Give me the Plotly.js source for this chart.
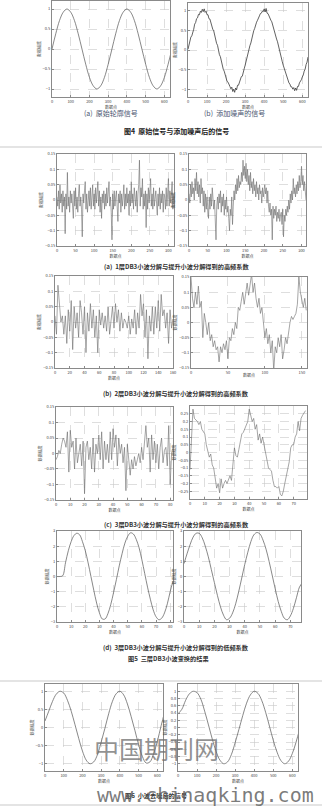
<!DOCTYPE html>
<html><head><meta charset="utf-8">
<script src="https://cdn.plot.ly/plotly-3.0.1.min.js"></script>
<style>html,body{margin:0;padding:0;background:#fff}#c{width:322px;height:806px}</style>
</head><body><div id="c"></div>
<script>
// ---------- DATA ----------
const sigOrig = [0,0.38,0.71,0.92,1.0,0.92,0.71,0.38,0,-0.38,-0.71,-0.92,-1.0,-0.92,-0.71,-0.38,0,0.38,0.71,0.92,1.0,0.92,0.71,0.38,0,-0.38,-0.71,-0.92,-1.0,-0.92,-0.71,-0.38,0];
const sigNoisy = [0.02,0.13,0.17,0.33,0.36,0.50,0.53,0.66,0.70,0.80,0.82,0.91,0.90,0.99,0.96,1.04,0.98,
1.05,0.96,0.99,0.90,0.90,0.80,0.79,0.69,0.65,0.53,0.49,0.36,0.31,0.17,0.12,-0.02,
-0.12,-0.17,-0.31,-0.36,-0.49,-0.54,-0.65,-0.69,-0.80,-0.82,-0.90,-0.93,-0.99,-0.95,-1.06,-1.00,
-1.08,-0.97,-1.02,-0.90,-0.90,-0.81,-0.79,-0.68,-0.67,-0.54,-0.48,-0.39,-0.27,-0.21,-0.08,0.01,
0.11,0.18,0.31,0.37,0.49,0.55,0.65,0.71,0.76,0.84,0.87,0.93,0.94,0.99,0.98,1.05,
0.97,1.06,0.94,0.93,0.86,0.84,0.76,0.72,0.62,0.57,0.46,0.39,0.28,0.21,0.09,0.01,
-0.11,-0.18,-0.30,-0.39,-0.46,-0.57,-0.62,-0.72,-0.76,-0.84,-0.87,-0.94,-0.94,-1.00,-0.96,-1.04,
-0.97,-1.03,-0.93,-0.93,-0.84,-0.81,-0.76,-0.69,-0.64,-0.54,-0.49,-0.37,-0.31,-0.18];
const d1Db3 = [0.01,-0.02,0.03,-0.03,0.05,-0.01,0.02,-0.04,0.03,-0.02,
0.01,-0.11,0.02,-0.03,0.09,-0.02,0.01,-0.04,0.03,-0.01,
0.02,-0.03,-0.06,0.03,-0.02,0.04,-0.03,0.01,-0.04,0.02,
0.05,-0.02,0.01,-0.03,-0.12,0.02,-0.01,0.03,0.06,-0.03,
0.02,-0.04,0.01,0.03,-0.02,0.04,-0.03,0.01,0.05,-0.02,
0.02,-0.03,0.04,-0.01,0.02,0.06,-0.02,0.03,-0.04,0.01,
-0.06,0.02,-0.01,0.03,-0.03,0.02,-0.02,0.04,-0.01,0.02,
0.06,-0.02,0.01,-0.04,-0.13,0.02,-0.03,0.03,-0.02,0.01,
0.03,-0.02,-0.07,0.02,-0.01,0.03,-0.04,0.02,-0.02,0.01,
0.05,-0.03,0.02,-0.02,0.04,-0.01,0.02,-0.05,0.03,-0.02,
0.06,-0.01,0.02,-0.03,0.04,0.01,-0.02,0.03,-0.04,0.02,
0.05,0.13,-0.02,0.04,0.01,0.07,-0.03,0.02,-0.02,0.03,
-0.09,0.02,-0.03,0.04,-0.01,0.03,0.07,-0.02,0.02,-0.03,
0.04,-0.02,0.01,0.03,-0.01,-0.05,0.02,-0.02,0.04,-0.03,
0.02,-0.01,0.03,-0.04,0.02,0.01,-0.03,0.04,-0.02,0.03,
0.07,-0.02,0.03,-0.01,0.02,0.06,-0.03,0.02];
const d1Lift = [0.02,-0.01,0.05,0.01,0.06,0.02,0.04,0.00,0.07,0.03,
0.09,0.02,0.06,0.01,0.05,-0.01,0.07,0.02,0.04,-0.02,
0.03,-0.04,0.02,-0.03,0.01,-0.02,-0.06,0.01,-0.03,0.02,
-0.02,0.04,-0.01,-0.03,0.00,-0.05,-0.13,-0.02,0.01,-0.03,
0.02,-0.01,0.03,-0.04,0.01,-0.02,0.02,-0.05,0.00,-0.03,
0.01,-0.04,-0.02,-0.06,-0.10,-0.03,-0.05,0.01,-0.08,-0.02,
0.03,0.00,0.05,0.02,0.07,0.03,0.08,0.04,0.06,0.05,
0.09,0.06,0.13,0.08,0.11,0.07,0.12,0.06,0.10,0.05,
0.08,0.03,0.09,0.04,0.06,0.02,0.07,0.03,0.05,0.01,
0.06,0.02,0.04,0.00,0.05,0.02,0.03,-0.01,0.04,0.01,
0.03,0.05,0.02,0.04,-0.01,0.03,-0.02,-0.04,-0.01,-0.05,
-0.03,-0.13,-0.02,-0.06,-0.03,-0.05,-0.02,-0.07,-0.04,-0.06,
-0.03,-0.07,-0.05,-0.04,-0.08,-0.03,-0.12,-0.05,-0.07,-0.03,
-0.05,-0.02,-0.04,0.00,-0.03,0.02,-0.01,0.03,0.00,0.07,
0.02,0.04,0.01,0.05,0.02,0.06,0.03,0.08,0.04,0.06,
0.11,0.05,0.08,0.03,0.06,0.01,0.00];
const d2Db3 = [0.02,-0.04,0.12,0.05,0.00,0.02,-0.04,0.02,-0.07,0.04,
-0.03,0.07,-0.09,0.05,-0.02,0.03,-0.05,0.07,0.03,-0.04,
0.05,-0.10,0.03,-0.03,0.06,-0.02,0.04,-0.05,0.02,-0.10,
0.04,-0.01,0.03,-0.02,0.02,-0.03,0.05,-0.04,0.02,0.05,
-0.02,0.06,0.00,0.04,-0.03,0.03,-0.02,0.01,0.00,-0.02,
0.02,-0.04,0.01,-0.02,0.04,-0.04,0.03,-0.02,0.09,0.02,
0.06,-0.05,0.04,-0.12,0.02,-0.03,0.05,-0.04,0.05,-0.02,
0.07,-0.03,0.09,0.02,0.04,-0.02,0.03,-0.07,0.04,-0.02,0.01];
const d2Lift = [0.15,0.08,0.05,0.10,0.06,0.12,0.05,0.07,-0.05,0.03,
0.00,-0.04,0.00,-0.06,-0.04,-0.08,-0.06,-0.09,-0.08,-0.13,
-0.08,-0.10,-0.07,-0.09,-0.06,-0.12,-0.05,-0.06,-0.02,-0.04,
0.00,-0.02,0.05,0.04,0.07,0.10,0.06,0.10,0.13,0.09,
0.12,0.16,0.10,0.13,0.08,0.05,0.08,0.03,0.05,-0.01,
-0.05,-0.02,-0.07,-0.04,-0.10,-0.06,-0.16,-0.08,-0.10,-0.05,
-0.08,-0.04,-0.12,-0.09,-0.05,-0.07,-0.03,0.00,0.02,0.01,
0.02,0.03,0.06,0.15,0.10,0.07,0.05,0.08,0.04];
const d3Db3 = [-0.02,-0.01,0.01,0.00,0.03,0.05,0.04,0.02,0.07,-0.06,
0.075,0.02,0.04,-0.05,0.05,-0.03,0.00,0.03,-0.04,0.04,
-0.13,0.02,0.04,-0.02,0.02,-0.05,0.05,-0.06,0.03,0.00,
0.06,-0.02,0.07,-0.05,0.04,-0.02,0.03,-0.03,0.07,-0.02,
0.08,0.02,0.06,-0.04,0.05,0.00,0.03,-0.03,0.02,-0.12,
0.03,-0.02,-0.07,-0.02,-0.05,-0.01,-0.04,-0.02,0.00,-0.03,
0.02,-0.02,0.04,0.09,0.02,0.05,-0.06,0.06,-0.02,0.04,
-0.03,0.03,-0.05,0.02,0.05,-0.03,0.01,0.02,-0.04,0.09,
-0.10,0.00,0.02];
const d3Lift = [-0.11,0.10,0.28,0.22,0.21,0.20,0.18,0.20,0.15,0.13,
0.12,0.05,0.00,-0.03,-0.01,-0.08,-0.10,-0.18,-0.23,-0.20,
-0.26,-0.17,-0.23,-0.20,-0.18,-0.20,-0.17,-0.15,-0.18,-0.08,
0.03,-0.02,-0.03,0.02,0.08,0.12,0.13,0.15,0.18,0.20,
0.28,0.24,0.20,0.22,0.15,0.18,0.08,0.12,0.06,0.10,
0.05,0.00,-0.05,-0.10,-0.11,-0.12,-0.18,-0.22,-0.22,-0.23,
-0.22,-0.27,-0.28,-0.25,-0.20,-0.15,-0.12,-0.06,0.03,0.05,
0.05,0.10,0.12,0.20,0.14,0.22,0.24,0.26,0.27];
const a3Db3 = [0,0,0.05,0.9,1.7,2.3,2.7,2.85,2.75,2.3,1.7,0.9,0.0,-0.9,-1.75,-2.4,-2.8,-2.8,-2.45,-1.85,-1.05,-0.2,0.7,1.5,2.2,2.65,2.88,2.8,2.45,1.9,1.1,0.2,-0.7,-1.5,-2.2,-2.65,-2.85,-2.75,-2.4,-1.8,-1.0,-0.3];
const a3Lift = [0.85,1.5,2.1,2.6,2.85,2.85,2.55,2.0,1.3,0.45,-0.4,-1.25,-2.0,-2.55,-2.85,-2.75,-2.4,-1.8,-1.0,-0.1,0.8,1.6,2.3,2.75,2.9,2.8,2.4,1.8,1.0,0.1,-0.8,-1.65,-2.3,-2.75,-2.85,-2.6,-2.1,-1.4,-0.7,-0.4];
const denDb3 = [0.18,0.45,0.72,0.92,1.0,0.95,0.75,0.45,0.08,-0.30,-0.65,-0.90,-1.0,-0.95,-0.75,-0.40,-0.02,0.38,0.72,0.93,1.0,0.90,0.65,0.30,-0.08,-0.48,-0.80,-0.98,-0.95,-0.72,-0.38,0.05,0.45];
const denLift = [0.38,0.5,0.75,0.93,1.0,0.96,0.78,0.45,0.07,-0.32,-0.66,-0.90,-1.0,-0.95,-0.75,-0.42,-0.05,0.33,0.67,0.90,1.0,0.94,0.74,0.42,0.04,-0.35,-0.68,-0.91,-1.0,-0.93,-0.72,-0.40,-0.02];

// tick values
const xt600 = [0,100,200,300,400,500,600];
const xt300 = [0,50,100,150,200,250,300];
const xt160 = [0,20,40,60,80,100,120,140,160];
const xt150 = [0,50,100,150];
const xt80 = [0,10,20,30,40,50,60,70,80];
const xt70 = [0,10,20,30,40,50,60,70];
const yt1 = [-1,-0.5,0,0.5,1];
const yt1b = [-1,-0.8,-0.6,-0.4,-0.2,0,0.2,0.4,0.6,0.8,1];
const yt015 = [-0.15,-0.1,-0.05,0,0.05,0.1,0.15];
const yt025 = [-0.25,-0.2,-0.15,-0.1,-0.05,0,0.05,0.1,0.15,0.2,0.25];
const yt3 = [-3,-2,-1,0,1,2,3];
const xTitle = '数据点', yTitle = '数据幅度';

// ---------- LAYOUT ----------
const W = 322, H = 806;
const panels = [
 {y:sigOrig, dx:20, xr:[0,630], yr:[-1.2,1.2], xt:xt600, yt:yt1, xl:[52,170], yl:[1,97], sp:true},
 {y:sigNoisy, dx:5, xr:[0,630], yr:[-1.2,1.2], xt:xt600, yt:yt1, xl:[188,308], yl:[3,97], col:'#3a3a3a', w:0.8},
 {y:d1Db3, dx:2, xr:[0,315], yr:[-0.1501,0.1501], xt:xt300, yt:yt015, xl:[57,174], yl:[154,246], col:'#6a6a6a', w:0.6},
 {y:d1Lift, dx:2, xr:[0,312], yr:[-0.1501,0.1501], xt:xt300, yt:yt015, xl:[189,306], yl:[154,246], col:'#6a6a6a', w:0.6},
 {y:d2Db3, dx:2, xr:[0,160], yr:[-0.1501,0.1501], xt:xt160, yt:yt015, xl:[55,173], yl:[276,368], col:'#6a6a6a', w:0.6},
 {y:d2Lift, dx:2, xr:[0,157], yr:[-0.1501,0.1501], xt:xt150, yt:yt015, xl:[191,307], yl:[277,368], col:'#6a6a6a', w:0.6},
 {y:d3Db3, dx:1, xr:[0,82], yr:[-0.1501,0.1501], xt:xt80, yt:yt015, xl:[56,173], yl:[407,500], col:'#6a6a6a', w:0.6},
 {y:d3Lift, dx:1, xr:[0,79], yr:[-0.3,0.3], xt:xt70, yt:yt025, xl:[190,307], yl:[406,499], col:'#6a6a6a', w:0.6},
 {y:a3Db3, dx:2, xr:[0,82], yr:[-3,3], xt:xt80, yt:yt3, xl:[57,173], yl:[531,622], sp:true},
 {y:a3Lift, dx:2, xr:[0,77], yr:[-3,3], xt:xt70, yt:yt3, xl:[184,301], yl:[531,622], sp:true},
 {y:denDb3, dx:20, xr:[0,630], yr:[-1.2,1.2], xt:xt600, yt:yt1, xl:[45,163], yl:[684,771], sp:true},
 {y:denLift, dx:20, xr:[0,630], yr:[-1.2,1.2], xt:xt600, yt:yt1b, xl:[178,298], yl:[684,771], sp:true}
];

const traces = [];
const layout = {
  width: W, height: H, margin:{l:0,r:0,t:0,b:0},
  paper_bgcolor:'#fff', plot_bgcolor:'#fff', showlegend:false,
  font:{family:'"Noto Sans CJK SC", "DejaVu Sans", sans-serif', color:'#333'},
  shapes:[], annotations:[]
};
const axBase = {showline:true, mirror:true, linecolor:'#8a8a8a', linewidth:1,
  showgrid:true, gridcolor:'#c8c8c8', griddash:'dash', gridwidth:0.6, zeroline:false,
  ticks:'inside', ticklen:2, tickcolor:'#8a8a8a', tickfont:{size:4, color:'#444'}, fixedrange:true};

panels.forEach((p,i)=>{
  const n = i===0 ? '' : String(i+1);
  traces.push({type:'scatter', mode:'lines', y:p.y, x0:0, dx:p.dx,
    xaxis:'x'+n, yaxis:'y'+n,
    line:{color:p.col||'#555', width:p.w||0.7, shape:p.sp?'spline':'linear'}, hoverinfo:'skip'});
  layout['xaxis'+n] = Object.assign({}, axBase, {
    domain:[p.xl[0]/W, p.xl[1]/W], anchor:'y'+n, range:p.xr, tickvals:p.xt,
    title:{text:xTitle, font:{size:4, color:'#444'}, standoff:0}});
  layout['yaxis'+n] = Object.assign({}, axBase, {
    domain:[1-p.yl[1]/H, 1-p.yl[0]/H], anchor:'x'+n, range:p.yr, tickvals:p.yt,
    title:{text:yTitle, font:{size:4, color:'#444'}, standoff:1}});
});

// separators
[147, 681, 805].forEach(yy=>{
  layout.shapes.push({type:'line', xref:'paper', yref:'paper', x0:0, x1:1, y0:1-yy/H, y1:1-yy/H,
    line:{color:'#e4e4e4', width:2}});
});

function ann(text, x, y, size, opts){
  layout.annotations.push(Object.assign({text:text, xref:'paper', yref:'paper', x:x/W, y:1-y/H,
    xanchor:'center', yanchor:'middle', showarrow:false,
    font:{size:size, color:'#333', family:'"Noto Sans CJK SC", sans-serif'}}, opts||{}));
}
ann('(a)  原始轮廓信号', 111, 113, 7, {font:{size:7, color:'#4a5570', family:'"Noto Sans CJK SC", sans-serif'}});
ann('(b)  添加噪声的信号', 234, 113, 7, {font:{size:7, color:'#4a5570', family:'"Noto Sans CJK SC", sans-serif'}});
ann('<b>图4  原始信号与添加噪声后的信号</b>', 176, 131, 7, {font:{size:7, color:'#222', family:'"Noto Sans CJK SC", sans-serif'}});
ann('<b>(a)  1层DB3小波分解与提升小波分解得到的高频系数</b>', 176, 267, 6.2);
ann('<b>(b)  2层DB3小波分解与提升小波分解得到的高频系数</b>', 176, 393, 6.2);
ann('<b>(c)  3层DB3小波分解与提升小波分解得到的高频系数</b>', 176, 524, 6.2);
ann('<b>(d)  3层DB3小波分解与提升小波分解得到的低频系数</b>', 176, 647, 6.2);
ann('<b>图5  三层DB3小波变换的结果</b>', 168, 658, 6.2);
ann('<b>图6  小波去噪后的信号</b>', 156, 795, 6.2);
ann('中国期刊网', 156, 748, 25, {font:{size:25, color:'rgba(110,110,110,0.75)', family:'"Noto Sans CJK SC", sans-serif'}});
ann('www.chinaqking.com', 205, 795, 20, {font:{size:20, color:'rgba(100,100,100,0.85)', family:'"DejaVu Sans Mono", monospace'}});

Plotly.newPlot('c', traces, layout, {staticPlot:true, displayModeBar:false});
</script>
</body></html>
